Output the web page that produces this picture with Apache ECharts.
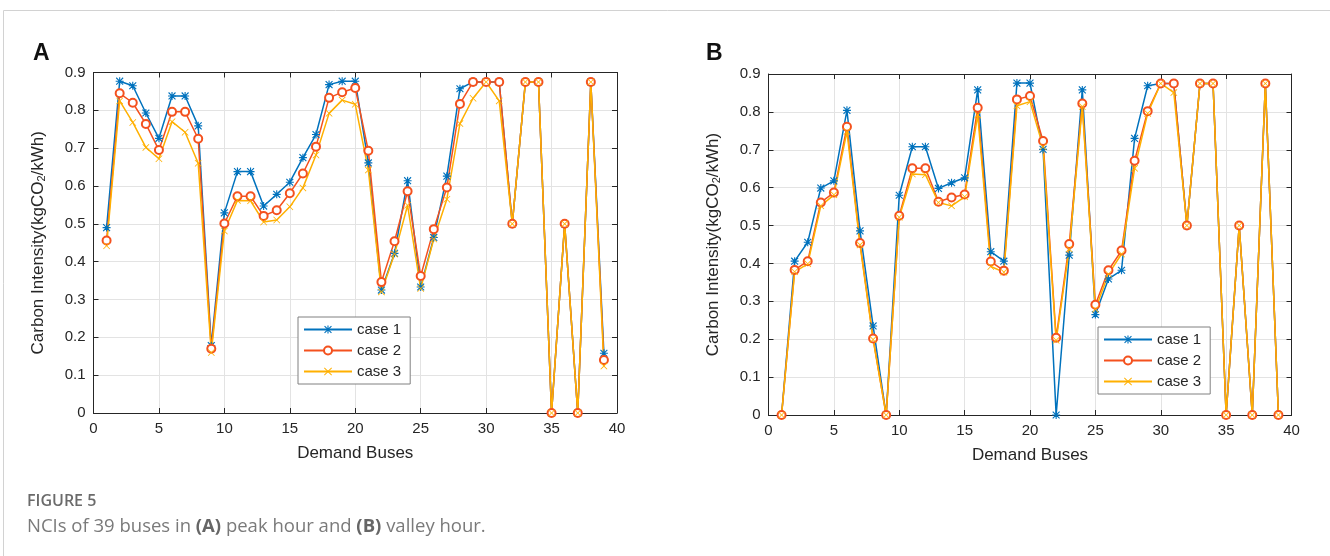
<!DOCTYPE html>
<html>
<head>
<meta charset="utf-8">
<script src="https://cdn.jsdelivr.net/npm/echarts@6/dist/echarts.min.js"></script>
<style>
  html, body { margin: 0; padding: 0; background: #fff; }
  #main { width: 1330px; height: 556px; }
</style>
</head>
<body>
<div id="main"></div>
<script>
// demand bus numbers (x axis)
var buses = [1,2,3,4,5,6,7,8,9,10,11,12,13,14,15,16,17,18,19,20,21,22,23,24,25,26,27,28,29,30,31,32,33,34,35,36,37,38,39];
var xTicks = [0, 5, 10, 15, 20, 25, 30, 35, 40];
var yTicks = [0, 0.1, 0.2, 0.3, 0.4, 0.5, 0.6, 0.7, 0.8, 0.9];
var caseNames = ['case 1', 'case 2', 'case 3'];

// (A) peak hour
var peakCase1 = [0.490,0.877,0.865,0.793,0.726,0.838,0.838,0.759,0.178,0.529,0.638,0.638,0.547,0.578,0.610,0.675,0.736,0.868,0.877,0.877,0.661,0.325,0.422,0.614,0.333,0.464,0.626,0.857,0.875,0.875,0.875,0.500,0.875,0.875,0,0.500,0,0.875,0.158];
var peakCase2 = [0.456,0.845,0.820,0.764,0.695,0.796,0.796,0.725,0.170,0.501,0.573,0.573,0.521,0.536,0.581,0.633,0.704,0.833,0.848,0.859,0.693,0.346,0.454,0.586,0.362,0.486,0.596,0.817,0.875,0.875,0.875,0.500,0.875,0.875,0,0.500,0,0.875,0.140];
var peakCase3 = [0.442,0.825,0.768,0.702,0.672,0.770,0.742,0.660,0.160,0.481,0.562,0.561,0.505,0.510,0.545,0.595,0.682,0.792,0.827,0.816,0.642,0.320,0.420,0.549,0.329,0.460,0.565,0.765,0.832,0.875,0.825,0.500,0.875,0.875,0,0.500,0,0.875,0.124];

// (B) valley hour
var valleyCase1 = [0,0.406,0.456,0.599,0.618,0.804,0.486,0.235,0,0.580,0.708,0.708,0.598,0.613,0.626,0.858,0.431,0.406,0.876,0.876,0.701,0,0.422,0.858,0.265,0.359,0.382,0.730,0.869,0.875,0.875,0.500,0.875,0.875,0,0.500,0,0.875,0];
var valleyCase2 = [0,0.383,0.406,0.561,0.587,0.761,0.454,0.202,0,0.526,0.651,0.651,0.563,0.574,0.582,0.811,0.405,0.381,0.833,0.842,0.723,0.204,0.451,0.822,0.291,0.382,0.434,0.671,0.802,0.875,0.875,0.500,0.875,0.875,0,0.500,0,0.875,0];
var valleyCase3 = [0,0.378,0.399,0.552,0.581,0.748,0.449,0.199,0,0.522,0.636,0.634,0.561,0.552,0.576,0.792,0.392,0.377,0.816,0.827,0.708,0.197,0.438,0.814,0.279,0.372,0.425,0.651,0.796,0.875,0.851,0.500,0.875,0.875,0,0.500,0,0.875,0];

var colors = ['#0072BD', '#F4511E', '#FFB000'];
var txt = '#262626';
var font = "'Liberation Sans', Arial, sans-serif";
var capFont = "'Open Sans', Lato, sans-serif";

// marker shapes (matlab style * o x)
var crossPath = 'path://M0.8 0L5 4.2L9.2 0L10 0.8L5.8 5L10 9.2L9.2 10L5 5.8L0.8 10L0 9.2L4.2 5L0 0.8Z';
var starPath = 'path://M4.3 0h1.4v10h-1.4zM0 4.3h10v1.4h-10zM1.2 0.2L5 4L8.8 0.2L9.8 1.2L6 5L9.8 8.8L8.8 9.8L5 6L1.2 9.8L0.2 8.8L4 5L0.2 1.2Z';
var symbols = [starPath, 'emptyCircle', crossPath];
var symbolSizes = [8, 8, 7];

function pairs(vals) {
    return buses.map(function (b, i) { return [b, vals[i]]; });
}

var chart = echarts.init(document.getElementById('main'));

var grids = [
    { left: 93.5, right: 713, top: 72.5, bottom: 143 },
    { left: 768.5, right: 38.5, top: 74, bottom: 141 }
];

var xAxes = [], yAxes = [];
grids.forEach(function (g, gi) {
    xAxes.push({
        type: 'value', gridIndex: gi, position: 'bottom',
        min: xTicks[0], max: xTicks[xTicks.length - 1], interval: 5,
        name: 'Demand Buses', nameLocation: 'middle', nameGap: 32,
        nameTextStyle: { color: txt, fontSize: 17, fontFamily: font },
        axisLine: { show: true, onZero: false, lineStyle: { color: txt, width: 1 } },
        axisTick: { show: true, inside: true, length: 5, lineStyle: { color: txt } },
        axisLabel: { color: txt, fontSize: 15, fontFamily: font, margin: 8 },
        splitLine: { show: true, lineStyle: { color: '#e3e3e3', width: 1 } }
    });
    xAxes.push({
        type: 'value', gridIndex: gi, position: 'top',
        min: 0, max: 40, interval: 5,
        axisLine: { show: true, onZero: false, lineStyle: { color: txt, width: 1 } },
        axisTick: { show: true, inside: true, length: 5, lineStyle: { color: txt } },
        axisLabel: { show: false },
        splitLine: { show: false }
    });
    yAxes.push({
        type: 'value', gridIndex: gi, position: 'left',
        min: yTicks[0], max: yTicks[yTicks.length - 1], interval: 0.1,
        name: 'Carbon Intensity(kgCO{sub|2}/kWh)', nameLocation: 'middle', nameGap: 46,
        nameRotate: 90,
        nameTextStyle: {
            color: txt, fontSize: 17, fontFamily: font,
            rich: { sub: { fontSize: 11, color: txt, fontFamily: font, verticalAlign: 'bottom', padding: [7, 0, 0, 0] } }
        },
        axisLine: { show: true, onZero: false, lineStyle: { color: txt, width: 1 } },
        axisTick: { show: true, inside: true, length: 5, lineStyle: { color: txt } },
        axisLabel: { color: txt, fontSize: 15, fontFamily: font, margin: 8 },
        splitLine: { show: true, lineStyle: { color: '#e3e3e3', width: 1 } }
    });
    yAxes.push({
        type: 'value', gridIndex: gi, position: 'right',
        min: 0, max: 0.9, interval: 0.1,
        axisLine: { show: true, onZero: false, lineStyle: { color: txt, width: 1 } },
        axisTick: { show: true, inside: true, length: 5, lineStyle: { color: txt } },
        axisLabel: { show: false },
        splitLine: { show: false }
    });
});

var panelData = [
    [peakCase1, peakCase2, peakCase3],
    [valleyCase1, valleyCase2, valleyCase3]
];
var seriesArr = [];
panelData.forEach(function (sets, gi) {
    sets.forEach(function (vals, ci) {
        seriesArr.push({
            name: caseNames[ci],
            type: 'line',
            xAxisIndex: gi * 2,
            yAxisIndex: gi * 2,
            symbol: symbols[ci],
            symbolSize: symbolSizes[ci],
            showAllSymbol: true,
            lineStyle: { color: colors[ci], width: 1.5 },
            itemStyle: { color: colors[ci], borderColor: colors[ci], borderWidth: ci === 1 ? 1.5 : 0 },
            emphasis: { disabled: true },
            data: pairs(vals)
        });
    });
});

function legendAt(left, top) {
    return {
        data: caseNames,
        orient: 'vertical',
        left: left, top: top,
        itemWidth: 48, itemHeight: 10, itemGap: 6,
        padding: [5, 9, 5, 5],
        borderColor: '#808080', borderWidth: 1,
        backgroundColor: '#fff',
        selectedMode: false,
        textStyle: { color: txt, fontSize: 15, fontFamily: font }
    };
}

var option = {
    animation: false,
    color: colors,
    grid: grids,
    xAxis: xAxes,
    yAxis: yAxes,
    legend: [legendAt(298, 317), legendAt(1098, 327)],
    graphic: [
        { type: 'rect', shape: { x: 3.5, y: 10.5, width: 1400, height: 600 },
          style: { fill: 'none', stroke: '#d2d2d2', lineWidth: 1 }, silent: true },
        { type: 'text', left: 33, top: 42,
          style: { text: 'A', fontSize: 23, fontWeight: 'bold', fill: '#111', fontFamily: font } },
        { type: 'text', left: 706, top: 42,
          style: { text: 'B', fontSize: 23, fontWeight: 'bold', fill: '#111', fontFamily: font } },
        { type: 'text', left: 27, top: 493,
          style: { text: 'FIGURE 5', fontSize: 16, fontWeight: 600, fill: '#6b6b6b', fontFamily: capFont } },
        { type: 'text', left: 27, top: 517,
          style: {
              text: 'NCIs of 39 buses in {b|(A)} peak hour and {b|(B)} valley hour.',
              fontSize: 18.5, fill: '#7a7a7a', fontFamily: capFont,
              rich: { b: { fontSize: 18.5, fontWeight: 'bold', fill: '#666', fontFamily: capFont } }
          } }
    ],
    series: seriesArr
};
chart.setOption(option);
</script>
</body>
</html>
